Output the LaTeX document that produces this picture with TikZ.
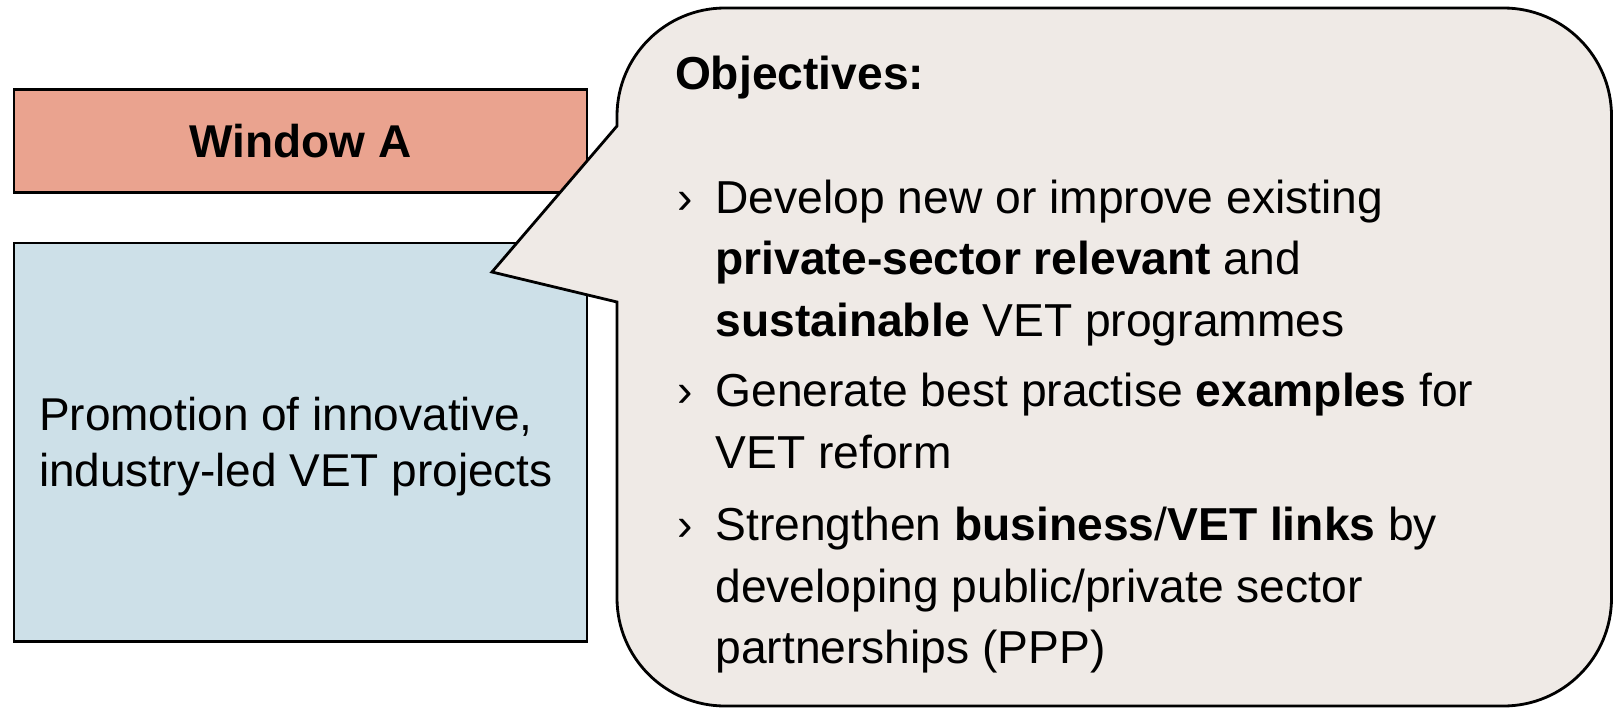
\documentclass[tikz,border=0pt]{standalone}
\usepackage{fontspec}
\setmainfont{Liberation Sans}
\definecolor{winfill}{RGB}{234,163,143}
\definecolor{projfill}{RGB}{205,224,232}
\definecolor{callfill}{RGB}{239,234,230}
\begin{document}
\begin{tikzpicture}[x=1pt,y=-1pt,
  box/.style={draw=black, line width=2.6pt, inner sep=0pt, outer sep=0pt},
  bodytext/.style={anchor=base west, inner sep=0pt, outer sep=0pt,
    font=\fontsize{46.2}{55}\selectfont},
  lefttext/.style={anchor=base west, inner sep=0pt, outer sep=0pt,
    font=\fontsize{46}{56}\selectfont},
  bulletmark/.style={anchor=base west, inner sep=0pt, outer sep=0pt,
    font=\fontsize{46.2}{55}\selectfont},
  callout/.style={draw=black, fill=callfill, line width=2.8pt, line join=miter}]
\useasboundingbox (0,0) rectangle (1616,709);

% left column: heading box and project box
\node[box, fill=winfill, minimum width=572.8pt, minimum height=103.3pt,
      font=\fontsize{46}{55}\selectfont\bfseries] (winA) at (300.4,140.85) {Window A};
\node[box, fill=projfill, minimum width=572.8pt, minimum height=398.5pt] (proj) at (300.4,442.25) {};
\node[lefttext] (projA) at (39,430) {Promotion of innovative,};
\node[lefttext] (projB) at (39,486) {industry-led VET projects};

% speech bubble with its pointer
\coordinate (tip) at (492,272);
\coordinate (baseup) at (617,126);
\coordinate (baselow) at (617,302);
\draw[callout] (baselow) -- (617,598)
  arc[start angle=180, end angle=90, radius=108]
  -- (1503.5,706)
  arc[start angle=90, end angle=0, radius=108]
  -- (1611.5,116)
  arc[start angle=0, end angle=-90, radius=108]
  -- (725,8)
  arc[start angle=-90, end angle=-180, radius=108]
  -- (baseup) -- (tip) -- cycle;

% bubble contents
\node[bodytext, font=\fontsize{46.2}{55}\selectfont\bfseries] (head) at (675,89.5) {Objectives:};

\node[bulletmark] (b1) at (677,213) {›};
\node[bodytext] (l1a) at (715.5,213) {Develop new or improve existing};
\node[bodytext] (l1b) at (715.5,274.5) {\textbf{private-sector relevant} and};
\node[bodytext] (l1c) at (715.5,336) {\textbf{sustainable} VET programmes};

\node[bulletmark] (b2) at (677,406.6) {›};
\node[bodytext] (l2a) at (715.5,406.6) {Generate best practise \textbf{examples} for};
\node[bodytext] (l2b) at (715.5,468.5) {VET reform};

\node[bulletmark] (b3) at (677,540.6) {›};
\node[bodytext] (l3a) at (715.5,540.6) {Strengthen \textbf{business}/\textbf{VET links} by};
\node[bodytext] (l3b) at (715.5,602.4) {developing public/private sector};
\node[bodytext] (l3c) at (715.5,663.3) {partnerships (PPP)};
\end{tikzpicture}
\end{document}
